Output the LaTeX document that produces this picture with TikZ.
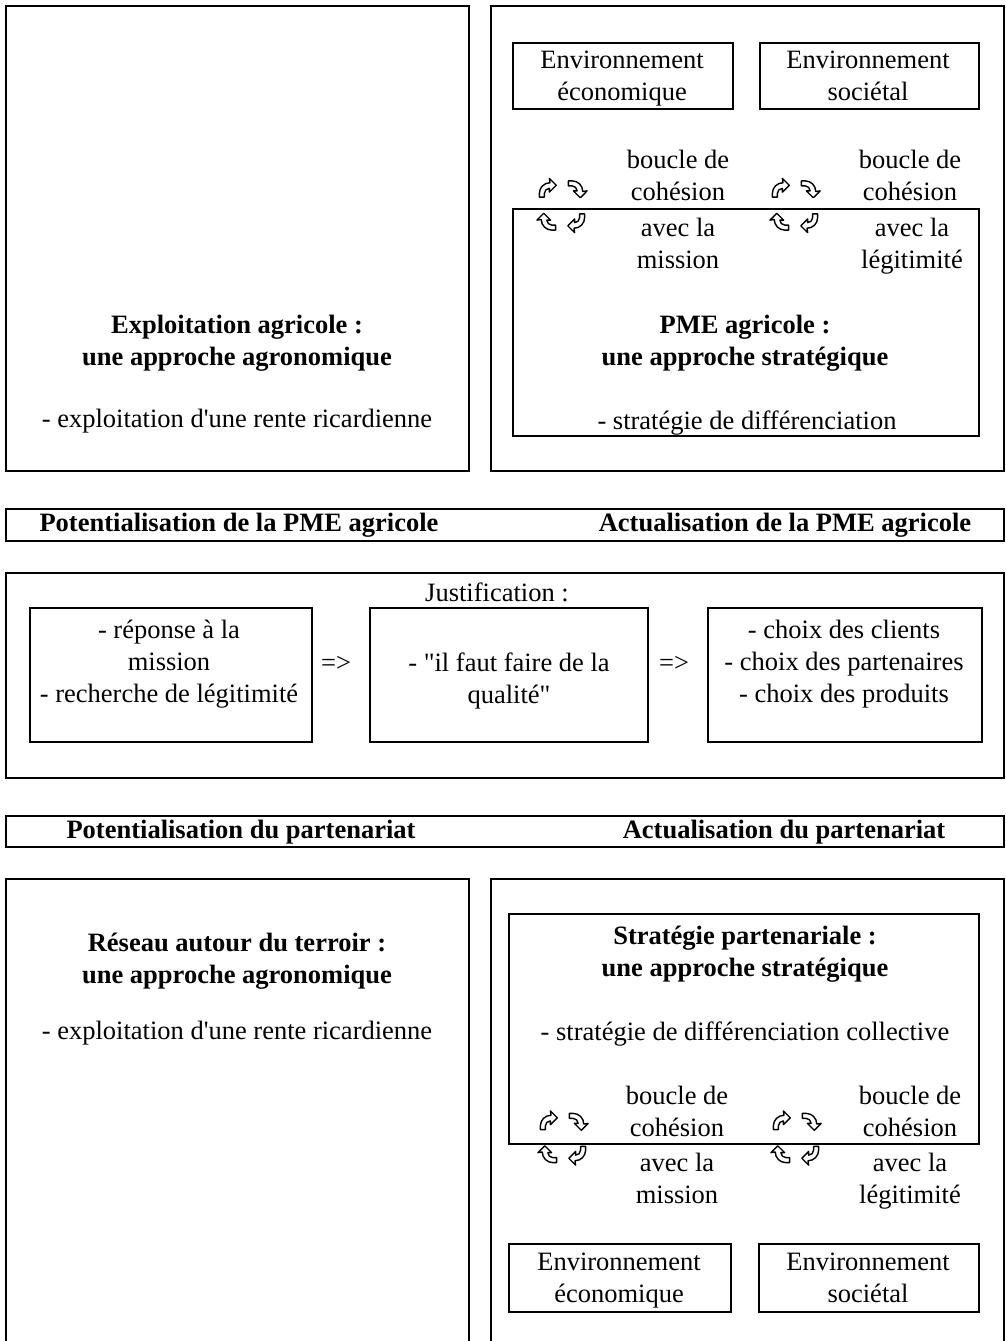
\documentclass[tikz,border=0pt]{standalone}
\usepackage{fontspec}
\setmainfont{Liberation Serif}[Ligatures=TeXOff]
\begin{document}
\begin{tikzpicture}[x=1pt,y=-1pt,
  frame/.style={draw, line width=2.4pt, inner sep=0pt, anchor=north west},
  inbox/.style={draw, line width=2pt, inner sep=0pt, anchor=north west},
  txt/.style={inner sep=0pt, align=center, font=\fontsize{26.5}{32}\selectfont},
  bold/.style={inner sep=0pt, align=center, font=\bfseries\fontsize{26.5}{32}\selectfont},
  % four hollow bent arrows running round a clockwise loop
  loopcyc/.pic={
    \foreach \ang/\dx/\dy in {0/-14.5/-16.5, 90/14.5/-16.5, 180/14.5/16.5, -90/-14.5/16.5} {
      \begin{scope}[shift={(\dx,\dy)}, yscale=-1, rotate=\ang, scale=1.25]
        \draw[line width=1.4pt, line join=round, fill=white]
          (-6.5,-6.5) -- (-6.5,-3.5) arc[start angle=180, end angle=90, radius=8.5]
          -- (1.5,8.5) -- (7,3) -- (1.5,-2.5) -- (1.5,0.5)
          arc[start angle=90, end angle=180, radius=4] -- (-2.5,-6.5) -- cycle;
      \end{scope}
    }
  }
]
\path[use as bounding box, clip] (0,0) rectangle (1006,1341);
\fill[white] (0,0) rectangle (1006,1341);

% ---------- upper block ----------
\node[frame, minimum width=463, minimum height=465] (farm) at (5,5) {};
\node[bold] (farmtitle) at (237,343) {\strut Exploitation agricole :\\\strut une approche agronomique};
\node[txt] (farmitem) at (237,421) {\strut - exploitation d'une rente ricardienne};

\node[frame, minimum width=513, minimum height=465] (pmeframe) at (490,5) {};
\node[inbox, minimum width=220, minimum height=66] (ecoA) at (512,42) {};
\node[txt] at (622,78) {\strut Environnement\\\strut économique};
\node[inbox, minimum width=219, minimum height=66] (socA) at (759,42) {};
\node[txt] at (868,78) {\strut Environnement\\\strut sociétal};
\node[inbox, minimum width=466, minimum height=227] (pme) at (512,208) {};
\node[txt] (loopA1) at (678,178) {\strut boucle de\\\strut cohésion};
\node[txt] (withA1) at (678,246) {\strut avec la\\\strut mission};
\node[txt] (loopA2) at (910,178) {\strut boucle de\\\strut cohésion};
\node[txt] (withA2) at (912,246) {\strut avec la\\\strut légitimité};
\pic at (562,205.5) {loopcyc};
\pic at (795,205.5) {loopcyc};
\node[bold] (pmetitle) at (745,343) {\strut PME agricole :\\\strut une approche stratégique};
\node[txt] (pmeitem) at (747,423) {\strut - stratégie de différenciation};

% ---------- first band ----------
\node[inbox, minimum width=998, minimum height=32] (bandA) at (5,508) {};
\node[bold] at (239,525) {\strut Potentialisation de la PME agricole};
\node[bold] at (785,525) {\strut Actualisation de la PME agricole};

% ---------- justification ----------
\node[frame, minimum width=998, minimum height=205] (just) at (5,572) {};
\node[txt] (justlbl) at (497,595) {\strut Justification :};
\node[inbox, minimum width=282, minimum height=134] (cause) at (29,607) {};
\node[txt] at (169,664) {\strut - réponse à la\\\strut mission\\\strut - recherche de légitimité};
\node[txt] (imp1) at (336,665) {\strut =>};
\node[inbox, minimum width=278, minimum height=134] (quality) at (369,607) {};
\node[txt] at (509,681) {\strut - "il faut faire de la\\\strut qualité"};
\node[txt] (imp2) at (674,665) {\strut =>};
\node[inbox, minimum width=274, minimum height=134] (choice) at (707,607) {};
\node[txt] at (844,664) {\strut - choix des clients\\\strut - choix des partenaires\\\strut - choix des produits};

% ---------- second band ----------
\node[inbox, minimum width=998, minimum height=31] (bandB) at (5,815) {};
\node[bold] at (241,832) {\strut Potentialisation du partenariat};
\node[bold] at (784,832) {\strut Actualisation du partenariat};

% ---------- lower block ----------
\node[frame, minimum width=463, minimum height=480] (net) at (5,878) {};
\node[bold] (nettitle) at (237,961) {\strut Réseau autour du terroir :\\\strut une approche agronomique};
\node[txt] (netitem) at (237,1033) {\strut - exploitation d'une rente ricardienne};

\node[frame, minimum width=513, minimum height=480] (partframe) at (490,878) {};
\node[inbox, minimum width=470, minimum height=230] (strat) at (508,913) {};
\node[bold] (strattitle) at (745,954) {\strut Stratégie partenariale :\\\strut une approche stratégique};
\node[txt] (stratitem) at (745,1034) {\strut - stratégie de différenciation collective};
\node[txt] (loopB1) at (677,1114) {\strut boucle de\\\strut cohésion};
\node[txt] (withB1) at (677,1181) {\strut avec la\\\strut mission};
\node[txt] (loopB2) at (910,1114) {\strut boucle de\\\strut cohésion};
\node[txt] (withB2) at (910,1181) {\strut avec la\\\strut légitimité};
\pic at (563,1138) {loopcyc};
\pic at (796,1138) {loopcyc};
\node[inbox, minimum width=222, minimum height=68] (ecoB) at (508,1243) {};
\node[txt] at (619,1280) {\strut Environnement\\\strut économique};
\node[inbox, minimum width=220, minimum height=68] (socB) at (758,1243) {};
\node[txt] at (868,1280) {\strut Environnement\\\strut sociétal};
\end{tikzpicture}
\end{document}
